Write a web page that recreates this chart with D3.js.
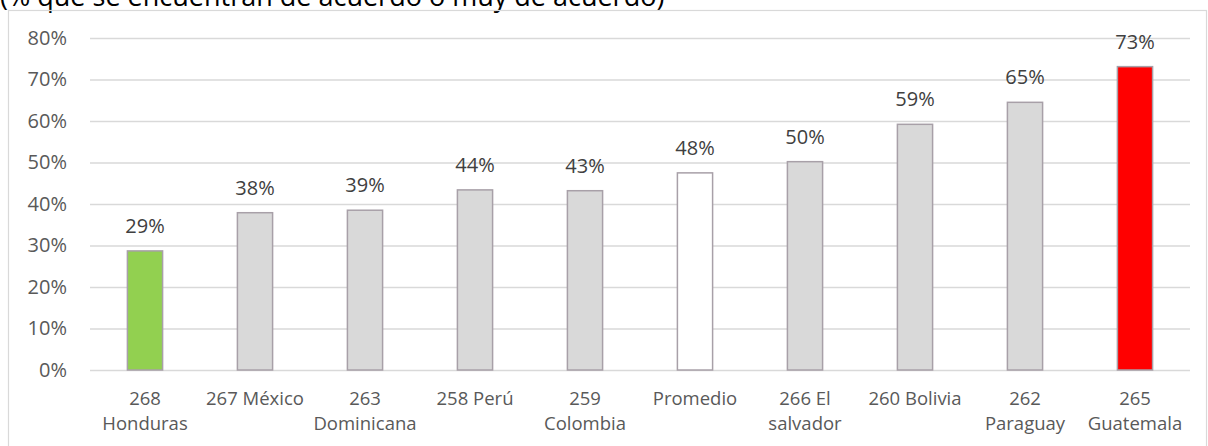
<!DOCTYPE html>
<html>
<head>
<meta charset="utf-8">
<script src="https://cdn.jsdelivr.net/npm/d3@7"></script>
<style>
  body { margin: 0; background: #fff; }
  svg { display: block; font-family: "Open Sans", sans-serif; }
</style>
</head>
<body>
<div id="chart"></div>
<script>
// Chart data
const categories = ["268 Honduras", "267 México", "263 Dominicana", "258 Perú", "259 Colombia",
    "Promedio", "266 El salvador", "260 Bolivia", "262 Paraguay", "265 Guatemala"];
const values = [0.287, 0.379, 0.385, 0.434, 0.432, 0.475, 0.502, 0.592, 0.645, 0.731];
const valueLabels = ["29%", "38%", "39%", "44%", "43%", "48%", "50%", "59%", "65%", "73%"];
// line breaks of the category labels as they appear in the picture
const categoryLines = [["268", "Honduras"], ["267 México"], ["263", "Dominicana"], ["258 Perú"],
    ["259", "Colombia"], ["Promedio"], ["266 El", "salvador"], ["260 Bolivia"], ["262", "Paraguay"],
    ["265", "Guatemala"]];
const barColors = ["#92d050", "#d9d9d9", "#d9d9d9", "#d9d9d9", "#d9d9d9",
    "#ffffff", "#d9d9d9", "#d9d9d9", "#d9d9d9", "#ff0000"];
const yTicks = [0, 0.1, 0.2, 0.3, 0.4, 0.5, 0.6, 0.7, 0.8];
const title = "(% que se encuentran de acuerdo o muy de acuerdo)";

const width = 1208;
const height = 446;
const margin = { top: 38, right: 18, bottom: 76, left: 90 };

const svg = d3.select("#chart").append("svg")
    .attr("width", width)
    .attr("height", height);

// title, cut off by the top edge (only its lower part shows)
svg.append("text")
    .attr("x", 0)
    .attr("y", 6)
    .attr("font-size", "27px")
    .attr("fill", "#000")
    .text(title);

// chart frame
svg.append("rect")
    .attr("x", 8.5)
    .attr("y", 10.5)
    .attr("width", 1198)
    .attr("height", 460)
    .attr("fill", "none")
    .attr("stroke", "#d9d9d9")
    .attr("stroke-width", 1.2);

const x = d3.scaleBand()
    .domain(categories)
    .range([margin.left, width - margin.right])
    .paddingInner(0.68)
    .paddingOuter(0.34);

const y = d3.scaleLinear()
    .domain([0, 0.8])
    .range([height - margin.bottom, margin.top]);

// gridlines + y labels
const yAxis = svg.append("g")
    .attr("transform", `translate(${margin.left},0)`)
    .call(d3.axisLeft(y).tickValues(yTicks).tickFormat(d3.format(".0%"))
        .tickSize(-(width - margin.left - margin.right)).tickPadding(23));
yAxis.select(".domain").remove();
yAxis.selectAll(".tick line").attr("stroke", "#d9d9d9").attr("stroke-width", 1.5);
yAxis.selectAll(".tick text")
    .attr("fill", "#595959")
    .attr("font-size", "20px")
    .attr("font-family", "Open Sans, sans-serif");

// bars
svg.append("g").selectAll("rect")
    .data(categories)
    .enter().append("rect")
    .attr("x", d => x(d))
    .attr("y", (d, i) => y(values[i]))
    .attr("width", x.bandwidth())
    .attr("height", (d, i) => y(0) - y(values[i]))
    .attr("fill", (d, i) => barColors[i])
    .attr("stroke", "#a8a0a8")
    .attr("stroke-width", 1.5);

// value labels
svg.append("g").selectAll("text")
    .data(categories)
    .enter().append("text")
    .attr("x", d => x(d) + x.bandwidth() / 2)
    .attr("y", (d, i) => y(values[i]) - 18)
    .attr("text-anchor", "middle")
    .attr("font-size", "20px")
    .attr("fill", "#404040")
    .text((d, i) => valueLabels[i]);

// category labels
const catLabels = svg.append("g").selectAll("text")
    .data(categories)
    .enter().append("text")
    .attr("x", d => x(d) + x.bandwidth() / 2)
    .attr("y", 404.5)
    .attr("text-anchor", "middle")
    .attr("font-size", "18.5px")
    .attr("fill", "#595959");

catLabels.each(function (d, i) {
    d3.select(this).selectAll("tspan")
        .data(categoryLines[i])
        .enter().append("tspan")
        .attr("x", x(d) + x.bandwidth() / 2)
        .attr("dy", (t, j) => j === 0 ? 0 : 25)
        .text(t => t);
});
</script>
</body>
</html>
